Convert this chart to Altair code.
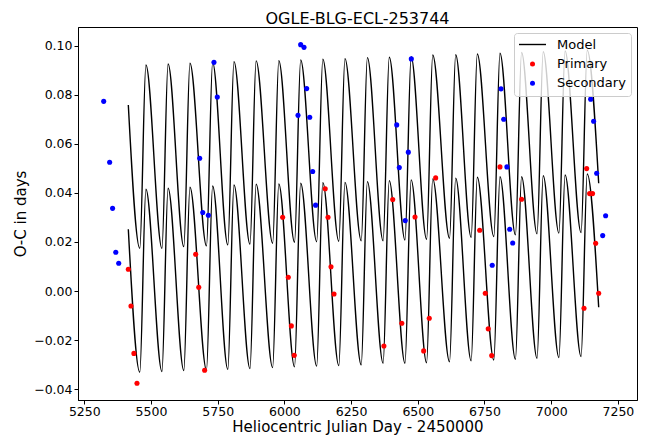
import altair as alt
import pandas as pd

# ---------------- data ----------------
primary_day = [5415, 5425, 5436, 5447.5, 5667.5, 5679, 5701, 5993.5, 6014.6, 6026, 6037,
               6153, 6163.5, 6174.7, 6186, 6373, 6406, 6440, 6489.5, 6522, 6543, 6567,
               6732, 6753, 6764, 6777, 6808, 6889, 7123, 7133, 7144, 7155, 7166.7, 7178]
primary_oc = [0.0089, -0.0061, -0.0254, -0.0376, 0.0150, 0.0015, -0.0323, 0.0301, 0.0056, -0.0142, -0.0262,
              0.0417, 0.0301, 0.0099, -0.0012, -0.0224, 0.0373, -0.0131, 0.0302, -0.0244, -0.0111, 0.0461,
              0.0248, -0.0009, -0.0154, -0.0263, 0.0506, 0.0374, -0.0070, 0.0499, 0.0397, 0.0397, 0.0195, -0.0009]

secondary_day = [5322.7, 5345, 5356, 5368, 5379, 5682.5, 5694, 5715, 5736, 5748.5,
                 6051, 6061, 6073.5, 6083.5, 6095, 6106, 6117, 6421, 6430.7, 6453, 6464.5, 6475.7,
                 6779, 6811.8, 6822, 6834, 6844.5, 6855.7, 7148, 7159, 7170.5, 7193, 7204]
secondary_oc = [0.0773, 0.0525, 0.0337, 0.0158, 0.0113, 0.0541, 0.0320, 0.0309, 0.0932, 0.0791,
                0.0716, 0.1004, 0.0993, 0.0825, 0.0708, 0.0487, 0.0350, 0.0677, 0.0503, 0.0287, 0.0566, 0.0946,
                0.0105, 0.0824, 0.0700, 0.0506, 0.0252, 0.0196, 0.0782, 0.0692, 0.0480, 0.0226, 0.0307]

# model curves: read turning points (troughs / peaks), start and end
model_start_day = 5415
model_end_day = 7178
model_trough_day = [5458, 5541, 5623, 5708, 5788, 5871, 5956, 6038, 6121, 6204, 6288,
                    6370, 6452, 6533, 6619, 6700, 6785, 6866, 6947, 7029, 7112]
model_peak_day = [5481, 5564, 5646, 5731, 5811, 5894, 5979, 6061, 6144, 6227, 6311,
                  6393, 6475, 6556, 6642, 6723, 6808, 6889, 6970, 7052, 7135]
upper_start, upper_end = 0.0758, 0.0439
upper_trough = [0.0174, 0.0174, 0.0181, 0.0184, 0.0188, 0.0191, 0.0195, 0.0199, 0.0201, 0.0203, 0.0205,
                0.0205, 0.0208, 0.0211, 0.0215, 0.0219, 0.0222, 0.0229, 0.0233, 0.0236, 0.0238]
upper_peak = [0.0921, 0.0925, 0.0928, 0.0932, 0.0935, 0.0938, 0.0939, 0.0942, 0.0945, 0.0947, 0.0951,
              0.0953, 0.0955, 0.0962, 0.0963, 0.0966, 0.0969, 0.0972, 0.0975, 0.0978, 0.0981]
lower_start, lower_end = 0.0252, -0.0066
lower_trough = [-0.0331, -0.0328, -0.0324, -0.0322, -0.0319, -0.0316, -0.0312, -0.0309, -0.0306, -0.0304, -0.0301,
                -0.0294, -0.0294, -0.0292, -0.0288, -0.0284, -0.0281, -0.0278, -0.0274, -0.0271, -0.0267]
lower_peak = [0.0415, 0.0419, 0.0423, 0.0428, 0.0432, 0.0435, 0.0436, 0.0439, 0.0442, 0.0443, 0.0446,
              0.0450, 0.0453, 0.0457, 0.0460, 0.0464, 0.0466, 0.0466, 0.0470, 0.0473, 0.0477]

x_ticks = [5250, 5500, 5750, 6000, 6250, 6500, 6750, 7000, 7250]
y_ticks = [-0.04, -0.02, 0.0, 0.02, 0.04, 0.06, 0.08, 0.10]
series_names = ["Model", "Primary", "Secondary"]
series_colors = ["#000000", "#ff0000", "#0000ff"]
series_shapes = ["M-5.4,-0.28H5.4V0.28H-5.4Z", "circle", "circle"]

# ---------------- tables ----------------
rows = []
for curve, s, e, tr, pk in [("upper", upper_start, upper_end, upper_trough, upper_peak),
                            ("lower", lower_start, lower_end, lower_trough, lower_peak)]:
    rows.append({"day": model_start_day, "oc": s, "curve": curve})
    for td, tv, pd_, pv in zip(model_trough_day, tr, model_peak_day, pk):
        rows.append({"day": td, "oc": tv, "curve": curve})
        rows.append({"day": pd_, "oc": pv, "curve": curve})
    rows.append({"day": model_end_day, "oc": e, "curve": curve})
model_df = pd.DataFrame(rows)

pts_df = pd.concat([
    pd.DataFrame({"day": primary_day, "oc": primary_oc, "series": "Primary"}),
    pd.DataFrame({"day": secondary_day, "oc": secondary_oc, "series": "Secondary"}),
], ignore_index=True)

FONT = "DejaVu Sans"
x_scale = alt.Scale(domain=[5226.4, 7321.6], nice=False, zero=False)
y_scale = alt.Scale(domain=[-0.0444, 0.1076], nice=False, zero=False)
color_scale = alt.Scale(domain=series_names, range=series_colors)
shape_scale = alt.Scale(domain=series_names, range=series_shapes)

x_axis = alt.Axis(values=x_ticks, format="d", title="Heliocentric Julian Day - 2450000",
                  labelPadding=1, titlePadding=2)
y_axis = alt.Axis(values=y_ticks, format=".2f", title="O-C in days",
                  labelPadding=2, titlePadding=5)

legend = alt.Legend(
    title=None, orient="none", legendX=436, legendY=6,
    symbolSize=25, symbolStrokeWidth=0,
    symbolOffset=7, labelOffset=18, rowPadding=5.4, padding=5,
    labelFont=FONT, labelFontSize=13, labelColor="black",
    fillColor="rgba(255,255,255,0.8)", strokeColor="#cccccc", cornerRadius=3,
)

lines = alt.Chart(model_df).mark_line(interpolate="monotone", strokeWidth=1.4, color="black", clip=True).encode(
    x=alt.X("day:Q", scale=x_scale, axis=x_axis),
    y=alt.Y("oc:Q", scale=y_scale, axis=y_axis),
    detail="curve:N",
    order="day:Q",
)

points = alt.Chart(pts_df).mark_point(filled=True, size=26, opacity=1).encode(
    x=alt.X("day:Q", scale=x_scale),
    y=alt.Y("oc:Q", scale=y_scale),
    color=alt.Color("series:N", scale=color_scale, legend=legend),
    shape=alt.Shape("series:N", scale=shape_scale, legend=legend),
)

chart = alt.layer(lines, points).properties(
    width=559, height=373,
    title=alt.TitleParams("OGLE-BLG-ECL-253744", font=FONT, fontSize=16, fontWeight="normal",
                          color="black", anchor="middle", frame="group", offset=0),
    autosize=alt.AutoSizeParams(type="none"),
    padding={"left": 78, "top": 27, "right": 10, "bottom": 39},
).configure_view(
    stroke="black", strokeWidth=1
).configure_axis(
    grid=False, domainColor="black", tickColor="black", labelColor="black", titleColor="black",
    labelFont=FONT, titleFont=FONT, labelFontSize=12.5, titleFontSize=15, titleFontWeight="normal",
    tickSize=4, domainWidth=1, tickWidth=1,
)

chart.save("out.html", embed_options={"renderer": "svg", "actions": False})
